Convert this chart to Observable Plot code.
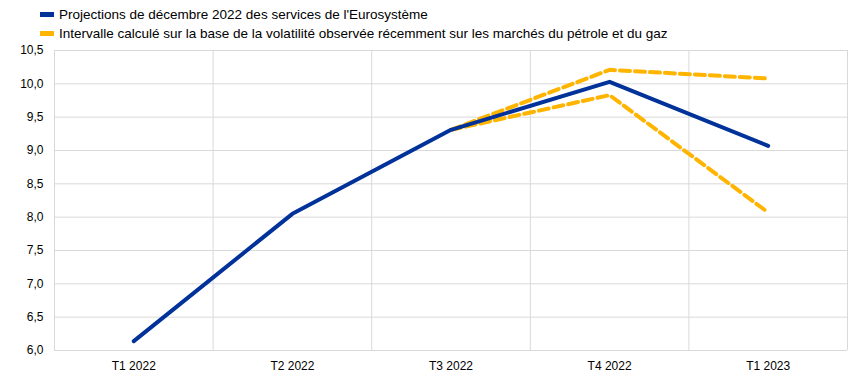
<!DOCTYPE html>
<html><head><meta charset="utf-8">
<script src="https://cdn.jsdelivr.net/npm/d3@7"></script>
<script src="https://cdn.jsdelivr.net/npm/@observablehq/plot@0.6"></script>
<style>
body{margin:0;background:#fff;font-family:"Liberation Sans",Arial,sans-serif;}
#legend{height:42px;position:relative;font-size:13.5px;color:#000;}
.item{position:absolute;left:40px;display:flex;align-items:center;height:15px;white-space:nowrap;}
.sw{width:14px;height:5px;margin-right:5px;}
</style></head><body>
<div id="legend"></div><div id="chart"></div>
<script>
const categories = ["T1 2022", "T2 2022", "T3 2022", "T4 2022", "T1 2023"];
const projections = [6.14, 8.05, 9.31, 10.03, 9.07];
const upperBound = [null, null, 9.31, 10.21, 10.08];
const lowerBound = [null, null, 9.31, 9.83, 8.07];
const yTicks = [6.0, 6.5, 7.0, 7.5, 8.0, 8.5, 9.0, 9.5, 10.0, 10.5];
const seriesNames = [
  "Projections de décembre 2022 des services de l'Eurosystème",
  "Intervalle calculé sur la base de la volatilité observée récemment sur les marchés du pétrole et du gaz"
];
const colors = ["#003299", "#ffb400"];

const legend = document.getElementById("legend");
seriesNames.forEach((name, k) => {
  const it = document.createElement("div");
  it.className = "item";
  it.style.top = (7 + k * 19) + "px";
  const sw = document.createElement("span");
  sw.className = "sw";
  sw.style.background = colors[k];
  const tx = document.createElement("span");
  tx.textContent = name;
  it.append(sw, tx);
  legend.append(it);
});

const toPts = arr => arr.map((v, i) => ({i, v})).filter(d => d.v != null);
const boundaries = categories.map((c, i) => i - 0.5).concat([categories.length - 0.5]);

const chart = Plot.plot({
  width: 858,
  height: 340,
  marginTop: 8,
  marginBottom: 32,
  marginLeft: 54,
  marginRight: 11,
  style: {fontFamily: '"Liberation Sans", Arial, sans-serif', fontSize: "12px", color: "#000", background: "#fff"},
  x: {type: "linear", domain: [-0.5, categories.length - 0.5]},
  y: {domain: [6, 10.5]},
  marks: [
    Plot.ruleY(yTicks, {stroke: "#d9d9d9", strokeWidth: 1}),
    Plot.ruleX(boundaries, {stroke: "#d9d9d9", strokeWidth: 1}),
    Plot.axisX(categories.map((c, i) => i), {tickFormat: i => categories[i], tickSize: 0, tickPadding: 11, label: null, fontSize: 12}),
    Plot.axisY(yTicks, {tickFormat: d => d.toFixed(1).replace(".", ","), tickSize: 0, tickPadding: 11, label: null, fontSize: 12}),
    Plot.line(toPts(upperBound), {x: "i", y: "v", stroke: colors[1], strokeWidth: 4, strokeDasharray: "10,5"}),
    Plot.line(toPts(lowerBound), {x: "i", y: "v", stroke: colors[1], strokeWidth: 4, strokeDasharray: "10,5"}),
    Plot.line(toPts(projections), {x: "i", y: "v", stroke: colors[0], strokeWidth: 4, strokeLinecap: "round"})
  ]
});
document.getElementById("chart").append(chart);
</script>
</body></html>
